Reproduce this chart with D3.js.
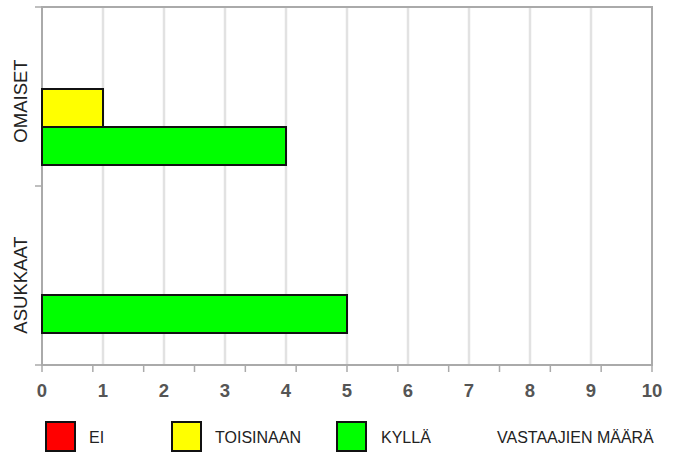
<!DOCTYPE html>
<html>
<head>
<meta charset="utf-8">
<script src="https://cdn.jsdelivr.net/npm/d3@7/dist/d3.min.js"></script>
<style>
  body { margin: 0; background: #fff; }
  svg { display: block; font-family: "Liberation Sans", Arial, sans-serif; }
</style>
</head>
<body>
<svg id="chart" width="681" height="455"></svg>
<script>
// Aineisto
const categories = ["OMAISET", "ASUKKAAT"];
const series = ["EI", "TOISINAAN", "KYLLÄ"];
const colors = ["#ff0000", "#ffff00", "#00ff00"];
const valuesEI = [0, 0];
const valuesTOISINAAN = [1, 0];
const valuesKYLLA = [4, 5];
const xTicks = [0, 1, 2, 3, 4, 5, 6, 7, 8, 9, 10];
const axisTitle = "VASTAAJIEN MÄÄRÄ";

const values = [valuesEI, valuesTOISINAAN, valuesKYLLA];

const svg = d3.select("#chart");
const plotLeft = 42, plotRight = 652, plotTop = 7, plotBottom = 365;

const x = d3.scaleLinear().domain([0, 10]).range([plotLeft, plotRight]);

// Palkkiryhmät
const y0 = d3.scaleBand().domain(categories).range([51, 333]).paddingInner(54 / 168);
const y1 = d3.scaleBand().domain(series).range([0, y0.bandwidth()]);
const labelY = d3.scalePoint().domain(categories).range([101, 285]);

// Ruudukko
svg.append("g")
    .selectAll("line")
    .data(xTicks.slice(1, -1))
    .enter().append("line")
    .attr("x1", d => x(d)).attr("x2", d => x(d))
    .attr("y1", plotTop).attr("y2", plotBottom)
    .attr("stroke", "#e2e2e2")
    .attr("stroke-width", 2.5);

// Kehys
svg.append("rect")
    .attr("x", plotLeft).attr("y", plotTop)
    .attr("width", plotRight - plotLeft).attr("height", plotBottom - plotTop)
    .attr("fill", "none")
    .attr("stroke", "#aaa")
    .attr("stroke-width", 2);

// x-akselin merkit
svg.append("g")
    .selectAll("line")
    .data(d3.range(13))
    .enter().append("line")
    .attr("x1", d => x(d * 10 / 12)).attr("x2", d => x(d * 10 / 12))
    .attr("y1", plotBottom).attr("y2", plotBottom + 7)
    .attr("stroke", "#aaa")
    .attr("stroke-width", 1.5);

// y-akselin merkit
svg.append("g")
    .selectAll("line")
    .data([plotTop, (plotTop + plotBottom) / 2, plotBottom])
    .enter().append("line")
    .attr("x1", plotLeft - 7).attr("x2", plotLeft)
    .attr("y1", d => d).attr("y2", d => d)
    .attr("stroke", "#aaa")
    .attr("stroke-width", 1.5);

svg.append("g")
    .selectAll("text")
    .data(xTicks)
    .enter().append("text")
    .attr("x", d => x(d))
    .attr("y", 397)
    .attr("text-anchor", "middle")
    .attr("font-size", 18.5)
    .attr("font-weight", "bold")
    .attr("fill", "#555")
    .text(d => d);

// Palkit
const groups = svg.append("g")
    .selectAll("g")
    .data(categories)
    .enter().append("g")
    .attr("transform", d => "translate(0," + y0(d) + ")");

groups.selectAll("rect")
    .data((c, ci) => series.map((s, si) => ({ s: s, si: si, v: values[si][ci] })).filter(d => d.v > 0))
    .enter().append("rect")
    .attr("x", x(0))
    .attr("y", d => y1(d.s))
    .attr("width", d => x(d.v) - x(0))
    .attr("height", y1.bandwidth())
    .attr("fill", d => colors[d.si])
    .attr("stroke", "#111")
    .attr("stroke-width", 2);

// Kategorianimet
svg.append("g")
    .selectAll("text")
    .data(categories)
    .enter().append("text")
    .attr("transform", d => "translate(27," + labelY(d) + ") rotate(-90)")
    .attr("text-anchor", "middle")
    .attr("font-size", 18.5)
    .attr("fill", "#222")
    .text(d => d);

// Selite
const legendBox = [46, 172, 337];
const legendText = [89, 215, 381];
const legend = svg.append("g")
    .selectAll("g")
    .data(series)
    .enter().append("g");

legend.append("rect")
    .attr("x", (d, i) => legendBox[i])
    .attr("y", 422)
    .attr("width", 29).attr("height", 29)
    .attr("fill", (d, i) => colors[i])
    .attr("stroke", "#111")
    .attr("stroke-width", 2);

legend.append("text")
    .attr("x", (d, i) => legendText[i])
    .attr("y", 443)
    .attr("font-size", 16)
    .attr("fill", "#222")
    .text(d => d);

svg.append("text")
    .attr("x", 497)
    .attr("y", 443)
    .attr("font-size", 16)
    .attr("fill", "#222")
    .text(axisTitle);
</script>
</body>
</html>
